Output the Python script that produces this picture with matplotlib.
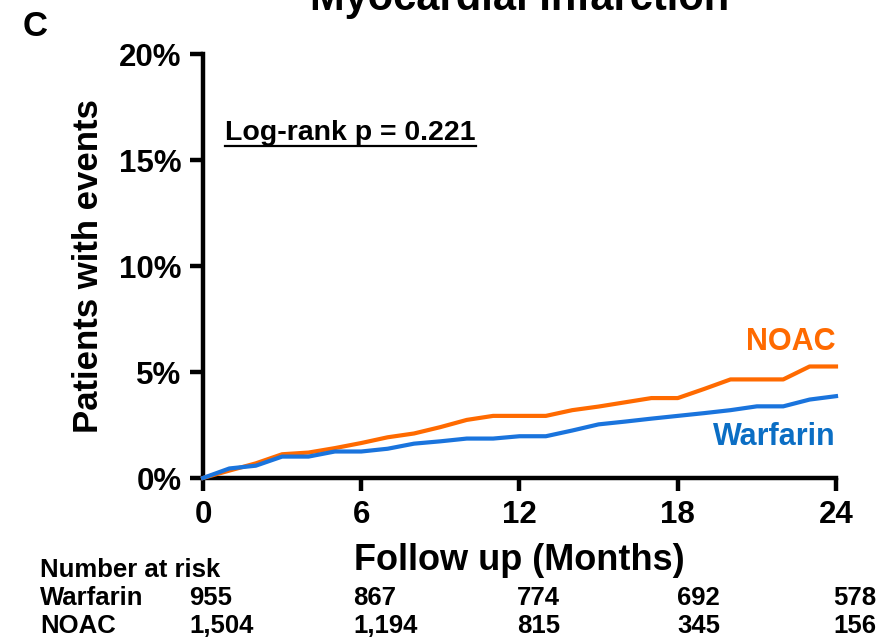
import matplotlib
matplotlib.use("Agg")
import matplotlib.pyplot as plt
from matplotlib.lines import Line2D

plt.rcParams['font.family'] = ['Liberation Sans', 'DejaVu Sans']
plt.rcParams['font.weight'] = 'bold'
plt.rcParams['axes.labelweight'] = 'bold'

# cumulative incidence (%), month by month
months = list(range(0, 25))
noac = [0, 0.35, 0.69, 1.12, 1.2, 1.41, 1.65, 1.92, 2.1, 2.4, 2.74, 2.93, 2.93,
        2.93, 3.2, 3.37, 3.57, 3.77, 3.77, 4.2, 4.65, 4.65, 4.65, 5.26, 5.26]
warfarin = [0, 0.45, 0.58, 1.01, 1.01, 1.25, 1.25, 1.38, 1.62, 1.73, 1.86, 1.86, 1.97,
            1.97, 2.24, 2.53, 2.66, 2.8, 2.93, 3.06, 3.2, 3.38, 3.38, 3.7, 3.86]

x_ticks = [0, 6, 12, 18, 24]
y_ticks = [0, 5, 10, 15, 20]
y_tick_labels = ['0%', '5%', '10%', '15%', '20%']

risk_warfarin = ['955', '867', '774', '692', '578']
risk_noac = ['1,504', '1,194', '815', '345', '156']

orange = '#FF6A00'
blue = '#1A74DD'
blue_text = '#0B6EC4'

fig = plt.figure(figsize=(8.79, 6.43), dpi=100)
ax = fig.add_axes([203 / 879, 1 - 478 / 643, 633 / 879, 424 / 643])

ax.plot(months, noac, color=orange, lw=3, clip_on=False, zorder=3)
ax.plot(months, warfarin, color=blue, lw=3, clip_on=False, zorder=4)

ax.set_xlim(0, 24)
ax.set_ylim(0, 20)
ax.set_xticks(x_ticks)
ax.set_yticks(y_ticks)
ax.set_yticklabels(y_tick_labels)
ax.tick_params(axis='both', width=3.2, length=9.5, labelsize=22.5, pad=6)
for s in ['top', 'right']:
    ax.spines[s].set_visible(False)
for s in ['left', 'bottom']:
    ax.spines[s].set_linewidth(3.2)

ax.set_ylabel('Patients with events', fontsize=25, labelpad=10)
ax.set_xlabel('Follow up (Months)', fontsize=26, labelpad=10)

# curve labels
ax.text(24, 6.04, 'NOAC', color=orange, fontsize=22, ha='right', va='baseline')
ax.text(24, 1.56, 'Warfarin', color=blue_text, fontsize=22, ha='right', va='baseline')

# log-rank annotation, underlined
lr = ax.text(22 / 633, (478 - 140) / 424, 'Log-rank p = 0.221', transform=ax.transAxes,
             fontsize=20.5, ha='left', va='baseline')

fig.text(0.591, 1 - 10 / 643, 'Myocardial Infarction', fontsize=30, ha='center', va='baseline')
fig.text(23 / 879, 1 - 36 / 643, 'C', fontsize=25, ha='left', va='baseline')

# number at risk table
col_x = [189, 353, 517, 677, 833]
fig.text(40 / 879, 1 - 577 / 643, 'Number at risk', fontsize=18.5, va='baseline')
fig.text(40 / 879, 1 - 605 / 643, 'Warfarin', fontsize=18.5, va='baseline')
fig.text(40 / 879, 1 - 633 / 643, 'NOAC', fontsize=18.5, va='baseline')
for cx, w, n in zip(col_x, risk_warfarin, risk_noac):
    fig.text(cx / 879, 1 - 605 / 643, w, fontsize=18.5, va='baseline')
    fig.text(cx / 879, 1 - 633 / 643, n, fontsize=18.5, va='baseline')

fig.canvas.draw()
bb = lr.get_window_extent().transformed(fig.transFigure.inverted())
uy = 1 - 145.5 / 643
fig.add_artist(Line2D([bb.x0, bb.x1], [uy, uy], color='black', lw=1.6,
                      transform=fig.transFigure))

fig.savefig('out.png', dpi=100)
